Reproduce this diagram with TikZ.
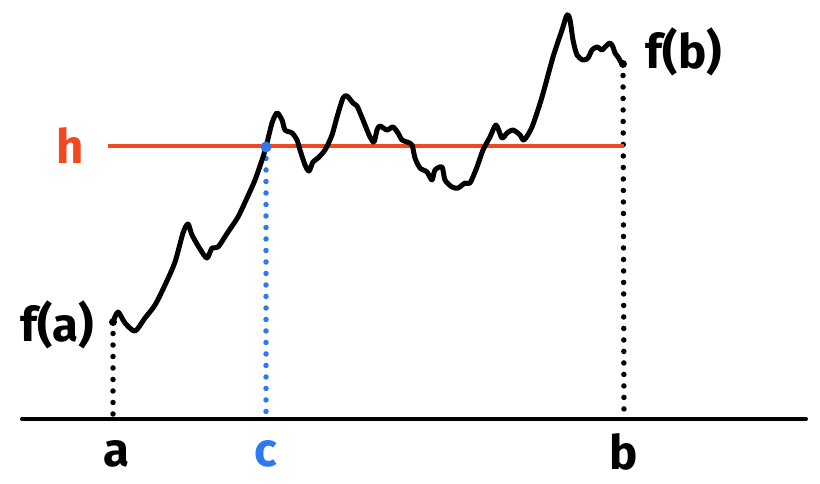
\documentclass[tikz,border=0pt]{standalone}
\usepackage{fontspec}
\setmainfont{Fira Sans}
\usepackage{xcolor}
\usetikzlibrary{positioning}
\definecolor{hred}{RGB}{242,72,30}
\definecolor{cblue}{RGB}{45,122,240}
\tikzstyle{curve} = [line width=0.1cm, line cap=round, line join=round]
\tikzstyle{dots} = [line width=0.11cm, line cap=round, dash pattern=on 0pt off 0.23cm]
\tikzstyle{lbl} = [font=\fontsize{27}{30}\selectfont\bfseries, inner sep=2pt]

\begin{document}
\begin{tikzpicture}[x=0.02cm, y=-0.02cm]
\useasboundingbox (0,0) rectangle (820,483);
% Points
\coordinate (xa) at (113,419);
\coordinate (xc) at (266,419);
\coordinate (xb) at (624,419);
\coordinate (fa) at (113,322);
\coordinate (fc) at (266,147);
\coordinate (fb) at (623,64);
\coordinate (ax0) at (22,419);
\coordinate (ax1) at (806,419);
\coordinate (h0) at (108,146);
\coordinate (h1) at (624,146);

% Axis
\draw [line width=0.08cm, line cap=round] (ax0) -- (ax1);

% Dotted guides
\draw [dots] (fa) -- (xa);
\draw [dots] (fb) -- (xb);
\draw [dots, cblue] (fc) -- (xc);

% Level h
\draw [line width=0.08cm, hred] (h0) -- (h1);

% The function
\draw [curve] plot[smooth, tension=0.45] coordinates {
  (113,322) (118,312) (125,323) (135,331) (145,318) (155,305) (165,285)
  (175,262) (183,233) (188,224) (192,235) (200,249) (207,258) (212,248)
  (218,247) (228,232) (238,217) (247,198) (255,180) (262,160) (266,147)
  (272,123) (277,113) (282,120) (285,130) (292,133) (297,140) (300,150)
  (305,165) (309,171) (313,162) (318,158) (325,150) (332,135) (337,117)
  (343,98) (347,96) (353,103) (357,106) (363,120) (370,137) (374,142)
  (377,130) (380,126) (387,130) (393,127) (398,133) (402,140) (407,142)
  (412,145) (415,158) (420,168) (427,172) (432,180) (435,170) (442,167)
  (445,180) (452,187) (458,188) (465,183) (470,183) (477,167) (483,150)
  (490,137) (496,125) (502,138) (507,133) (513,130) (520,135) (524,140)
  (532,127) (542,97) (553,57) (562,30) (567,15) (570,20) (573,40)
  (577,55) (583,60) (588,58) (592,50) (597,47) (602,50) (605,47)
  (610,43) (613,47) (615,53) (618,57) (622,64)
};

% Marked points
\fill (fa) circle (0.08cm);
\fill (fb) circle (0.08cm);
\fill [cblue] (fc) circle (0.11cm);

% Labels
\node (la) [lbl] at (116,454) {a};
\node (lc) [lbl, text=cblue] at (266,454) {c};
\node (lb) [lbl] at (624,452) {b};
\node (lfa) [lbl] at (57,325) {f(a)};
\node (lfb) [lbl] at (684,52) {f(b)};
\node (lh) [lbl, text=hred] at (70,146) {h};
\end{tikzpicture}
\end{document}
